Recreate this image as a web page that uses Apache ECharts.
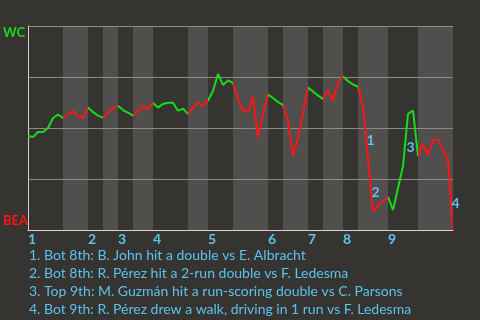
<!DOCTYPE html>
<html>
<head>
<meta charset="utf-8">
<script src="https://cdn.jsdelivr.net/npm/echarts@6/dist/echarts.min.js"></script>
<style>
html,body{margin:0;padding:0;background:#363431;}
#chart{width:480px;height:320px;}
</style>
</head>
<body>
<div id="chart"></div>
<script>
// Win probability for WC (percent), one value per game event (plate appearance)
const winProb = [
  46.1, 45.6, 48.0, 48.0, 50.0, 54.9, 56.6, 54.9, 56.9, 58.3,
  55.9, 54.9, 60.0, 57.8, 56.1, 55.1, 57.6, 59.6, 60.9, 58.8,
  57.5, 56.1, 58.3, 60.8, 59.3, 62.3, 60.0, 61.8, 62.4, 62.4,
  58.5, 59.5, 56.9, 60.0, 62.3, 60.9, 63.5, 68.1, 76.5, 71.1,
  73.3, 72.1, 64.2, 58.3, 58.0, 65.2, 45.3, 56.9, 66.4, 64.7,
  62.7, 61.3, 53.9, 36.3, 45.1, 57.4, 69.9, 67.9, 65.9, 64.2,
  68.6, 63.2, 72.5, 75.2, 73.0, 71.3, 70.3, 60.3, 35.3, 9.3,
  11.8, 14.0, 16.2, 9.8, 20.6, 31.4, 56.9, 58.6, 36.3, 42.2,
  36.8, 44.1, 44.1, 39.2, 34.3, 0
];
// Event index where each half-inning starts (top 1st, bot 1st, top 2nd, ...), last = end of game
const halfInningStarts = [0, 7, 12, 15, 18, 21, 25, 32, 36, 41, 48, 51, 56, 59, 63, 66, 72, 78, 85];
const inningLabels = ['1', '2', '3', '4', '5', '6', '7', '8', '9'];
const teamTop = 'WC';
const teamBottom = 'BEA';
// Key plays: event index and caption
const keyEvents = [68, 69, 76, 85];
const keyEventLabels = ['1', '2', '3', '4'];
const notes = [
  '1. Bot 8th: B. John hit a double vs E. Albracht',
  '2. Bot 8th: R. Pérez hit a 2-run double vs F. Ledesma',
  '3. Top 9th: M. Guzmán hit a run-scoring double vs C. Parsons',
  '4. Bot 9th: R. Pérez drew a walk, driving in 1 run vs F. Ledesma'
];

const GREEN = '#16dc16';
const RED = '#ff1414';
const BLUE = '#5cc2ee';
const FONT = 'Lato, "Noto Sans", sans-serif';

const lineData = winProb.map((v, i) => [i, v]);
const inningStarts = halfInningStarts.filter((_, k) => k % 2 === 0 && k < halfInningStarts.length - 1);

const bands = [];
const pieces = [];
for (let k = 0; k < halfInningStarts.length - 1; k++) {
  const a = halfInningStarts[k], b = halfInningStarts[k + 1];
  if (k % 2 === 1) bands.push([{ xAxis: a }, { xAxis: b }]);
  const p = { gte: a, color: k % 2 === 0 ? GREEN : RED };
  if (k < halfInningStarts.length - 2) p.lt = b; else p.lte = b;
  pieces.push(p);
}

const marks = keyEvents.map((e, j) => ({
  coord: [e - 0.5, (winProb[e - 1] + winProb[e]) / 2],
  value: keyEventLabels[j]
}));

const chart = echarts.init(document.getElementById('chart'), null, { renderer: 'canvas' });
chart.setOption({
  backgroundColor: '#363431',
  animation: false,
  title: {
    text: notes.join('\n'),
    left: 29,
    top: 246,
    padding: 0,
    textStyle: { color: BLUE, fontSize: 14, fontWeight: 'normal', fontFamily: FONT, lineHeight: 18.2 }
  },
  grid: { left: 27, right: 27, top: 26, bottom: 90, containLabel: false },
  xAxis: {
    type: 'value',
    min: 0,
    max: halfInningStarts[halfInningStarts.length - 1],
    axisLine: { show: true, lineStyle: { color: '#d6d6d6', width: 1 } },
    axisTick: { show: false },
    splitLine: { show: false },
    axisLabel: {
      customValues: inningStarts,
      formatter: v => inningLabels[inningStarts.indexOf(v)] || '',
      align: 'left',
      margin: 2,
      color: BLUE,
      fontSize: 14,
      fontWeight: 'bold',
      fontFamily: FONT
    }
  },
  yAxis: {
    type: 'value',
    min: 0,
    max: 100,
    interval: 25,
    axisLine: { show: true, lineStyle: { color: '#cfcfcf', width: 1 } },
    axisTick: { show: false },
    splitLine: { show: true, lineStyle: { color: '#8c8b89', width: 1 } },
    axisLabel: {
      align: 'left',
      margin: 25,
      formatter: v => v === 100 ? '{t|' + teamTop + '}' : (v === 0 ? '{b|' + teamBottom + '}' : ''),
      rich: {
        t: { color: GREEN, fontSize: 13, fontWeight: 'bold', fontFamily: FONT, padding: [14, 0, 0, 0] },
        b: { color: RED, fontSize: 13, fontWeight: 'bold', fontFamily: FONT, padding: [0, 0, 18, 0] }
      }
    }
  },
  visualMap: {
    type: 'piecewise',
    show: false,
    dimension: 0,
    seriesIndex: 0,
    pieces: pieces
  },
  series: [
    {
      type: 'line',
      data: lineData,
      showSymbol: false,
      symbol: 'none',
      z: 3,
      lineStyle: { width: 2 },
      markPoint: {
        symbol: 'circle',
        symbolSize: 1,
        itemStyle: { color: 'rgba(0,0,0,0)' },
        label: {
          show: true,
          position: 'inside',
          align: 'left',
          verticalAlign: 'top',
          offset: [1, 1],
          formatter: p => p.value,
          color: BLUE,
          fontSize: 14,
          fontWeight: 'bold',
          fontFamily: FONT
        },
        data: marks
      }
    },
    {
      type: 'line',
      data: [],
      z: -1,
      silent: true,
      markArea: {
        silent: true,
        z: -1,
        itemStyle: { color: '#504f4d', opacity: 1 },
        data: bands
      }
    }
  ]
});
</script>
</body>
</html>
